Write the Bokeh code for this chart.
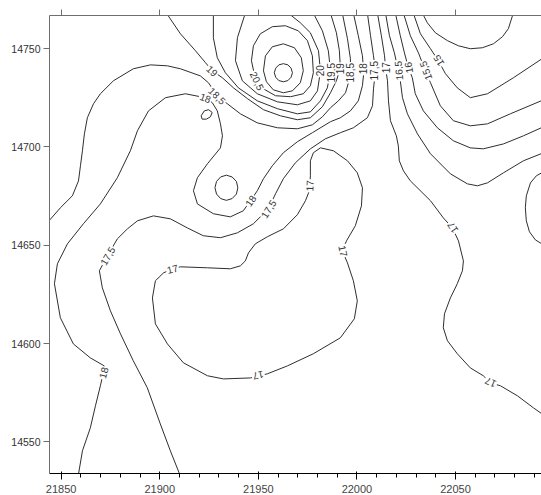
from bokeh.plotting import figure
from bokeh.models import Range1d, FixedTicker, LinearAxis, ColumnDataSource
from bokeh.embed import file_html
from bokeh.resources import INLINE
from bokeh.core.properties import value

# ---------------- axes ----------------
x_ticks = [21850, 21900, 21950, 22000, 22050]
y_ticks = [14550, 14600, 14650, 14700, 14750]
x_extent = [21844.1, 22093.6]
y_extent = [14533.9, 14766.8]

c185_x = [21843.5, 21849.6, 21855.7, 21858.8, 21859.8, 21860.8, 21861.8, 21863.3, 21866.4, 21869.9, 21876.5,
          21886.6, 21895.3, 21903.9, 21910.5, 21920.6, 21924.7, 21929.2, 21934.3, 21940.9, 21949.5, 21959.7,
          21969.8, 21977.4, 21982.5, 21986.6, 21990.6, 21994.2, 21995.7, 21996.7, 21996.7, 21995.2, 21992.6]
c185_y = [14662.0, 14669.0, 14675.1, 14682.7, 14690.4, 14698.0, 14706.6, 14714.8, 14721.9, 14727.0, 14733.6,
          14739.7, 14741.7, 14741.2, 14739.7, 14736.1, 14732.6, 14726.0, 14721.9, 14716.8, 14712.2, 14709.7,
          14709.2, 14711.2, 14715.3, 14719.9, 14723.4, 14727.5, 14732.6, 14737.7, 14744.8, 14755.0, 14768.0]

c18_x = [21858.2, 21860.8, 21864.8, 21867.4, 21869.9, 21871.4, 21871.9, 21864.8, 21856.2, 21849.6, 21846.6,
         21848.1, 21853.2, 21861.3, 21869.9, 21878.5, 21885.1, 21888.7, 21894.3, 21902.9, 21913.0, 21920.6,
         21924.2, 21926.7, 21929.2, 21930.8, 21931.8, 21930.8, 21924.2, 21919.1, 21917.1, 21919.1, 21927.2,
         21935.8, 21942.4, 21946.0, 21949.5, 21952.6, 21957.1, 21962.7, 21969.8, 21977.4, 21986.6, 21991.6,
         21996.7, 22000.7, 22002.8, 22003.3, 22003.3, 22002.8, 22000.7, 21998.2]
c18_y = [14530.0, 14545.4, 14557.1, 14568.3, 14578.5, 14585.1, 14588.6, 14592.7, 14599.8, 14613.1, 14630.4,
         14640.5, 14650.7, 14660.9, 14671.0, 14684.3, 14698.0, 14708.2, 14718.3, 14725.0, 14727.0, 14725.5,
         14724.5, 14722.4, 14718.3, 14711.7, 14705.6, 14699.5, 14691.4, 14684.3, 14677.7, 14671.0, 14666.0,
         14664.4, 14667.5, 14672.6, 14677.7, 14683.8, 14690.4, 14697.0, 14702.6, 14707.2, 14712.8, 14714.8,
         14718.3, 14723.4, 14731.1, 14736.1, 14739.7, 14746.3, 14756.5, 14768.0]

c175_x = [21911.5, 21905.4, 21900.3, 21893.7, 21886.6, 21880.1, 21875.0, 21870.9, 21869.4, 21873.5, 21878.5,
          21883.6, 21888.7, 21896.8, 21905.4, 21914.0, 21922.1, 21930.8, 21939.4, 21947.5, 21955.1, 21958.7,
          21962.7, 21968.8, 21976.4, 21984.0, 21991.6, 21998.2, 22005.3, 22007.9, 22008.4, 22009.4, 22008.4,
          22006.9, 22005.3]
c175_y = [14530.0, 14545.4, 14559.1, 14577.5, 14591.2, 14604.9, 14616.6, 14628.3, 14637.0, 14644.6, 14653.2,
          14658.3, 14662.4, 14664.9, 14663.4, 14658.8, 14654.8, 14653.8, 14656.3, 14660.9, 14668.5, 14676.1,
          14683.8, 14691.9, 14699.0, 14704.1, 14707.2, 14709.7, 14714.8, 14720.9, 14729.5, 14738.7, 14746.3,
          14756.5, 14768.0]

c19_x = [21903.4, 21910.5, 21918.1, 21923.2, 21926.7, 21931.8, 21937.4, 21944.5, 21952.6, 21961.2, 21969.8,
         21976.4, 21982.5, 21986.6, 21989.6, 21991.6, 21991.1, 21989.6, 21986.6]
c19_y = [14768.0, 14757.5, 14748.9, 14742.8, 14738.7, 14735.1, 14730.0, 14724.5, 14718.9, 14715.8, 14713.8,
         14714.8, 14720.4, 14727.5, 14733.6, 14740.2, 14748.9, 14758.0, 14768.0]

c195_x = [21927.2, 21927.2, 21929.2, 21933.3, 21939.9, 21949.5, 21959.7, 21969.8, 21976.4, 21981.5, 21985.0,
          21986.6, 21985.5, 21982.5, 21977.9]
c195_y = [14768.0, 14755.5, 14745.3, 14737.7, 14730.0, 14723.4, 14719.4, 14716.8, 14717.8, 14723.4, 14730.0,
          14738.7, 14748.9, 14759.0, 14768.0]

c20_x = [21943.4, 21939.4, 21938.4, 21941.9, 21949.5, 21959.7, 21969.8, 21976.4, 21980.0, 21981.5, 21980.5,
         21976.4, 21971.3, 21965.2]
c20_y = [14768.0, 14755.5, 14743.8, 14733.6, 14727.0, 14722.9, 14721.4, 14723.4, 14728.5, 14738.7, 14748.9,
         14758.0, 14763.1, 14768.0]

c205_x = [21946.5, 21947.5, 21951.0, 21957.1, 21963.7, 21970.3, 21974.9, 21977.4, 21977.9, 21976.4, 21972.8,
          21966.3, 21958.7, 21952.6, 21948.5, 21946.5]
c205_y = [14743.8, 14751.4, 14757.5, 14761.1, 14761.6, 14759.0, 14754.0, 14746.3, 14737.7, 14731.1, 14727.0,
          14725.5, 14726.0, 14729.5, 14734.6, 14743.8]

c21_x = [21952.6, 21953.6, 21957.1, 21962.7, 21968.3, 21971.8, 21972.8, 21971.3, 21967.3, 21962.7, 21957.6,
         21954.1, 21952.6]
c21_y = [14738.7, 14746.3, 14750.9, 14752.4, 14750.4, 14745.3, 14738.7, 14732.6, 14728.5, 14727.5, 14729.0,
         14733.1, 14738.7]

c215_x = [21967.3, 21966.6, 21965.0, 21962.7, 21960.4, 21958.8, 21958.1, 21958.8, 21960.4, 21962.7, 21965.0,
          21966.6, 21967.3]
c215_y = [14737.7, 14740.0, 14741.7, 14742.3, 14741.7, 14740.0, 14737.7, 14735.4, 14733.7, 14733.1, 14733.7,
          14735.4, 14737.7]

c185_loop_x = [21939.6, 21938.9, 21936.7, 21933.8, 21930.9, 21928.8, 21928.0, 21928.8, 21930.9, 21933.8,
               21936.7, 21938.9, 21939.6]
c185_loop_y = [14679.2, 14682.4, 14684.7, 14685.6, 14684.7, 14682.4, 14679.2, 14676.0, 14673.7, 14672.8,
               14673.7, 14676.0, 14679.2]

c185_tiny_x = [21921.0, 21922.6, 21924.8, 21926.6, 21925.7, 21923.7, 21921.5, 21921.0]
c185_tiny_y = [14715.8, 14718.3, 14718.9, 14717.5, 14715.3, 14714.1, 14714.1, 14715.8]

c17_loop_x = [21906.4, 21910.5, 21924.2, 21935.8, 21940.9, 21943.4, 21945.0, 21948.5, 21954.6, 21962.7, 21969.8,
              21973.9, 21975.9, 21976.4, 21976.4, 21977.9, 21981.5, 21988.1, 21995.2, 22000.2, 22002.8, 22002.3,
              21999.2, 21994.7, 21992.6, 21995.2, 21998.2, 22000.2, 21998.7, 21991.6, 21977.9, 21964.7, 21954.6,
              21946.0, 21932.3, 21924.2, 21912.0, 21903.9, 21897.8, 21896.3, 21897.8, 21901.9, 21906.4]
c17_loop_y = [14638.0, 14639.0, 14638.5, 14638.0, 14639.5, 14642.0, 14646.1, 14650.7, 14654.3, 14658.3, 14665.5,
              14672.6, 14677.7, 14685.3, 14692.9, 14697.0, 14699.5, 14698.0, 14692.9, 14686.8, 14679.2, 14670.0,
              14659.9, 14652.2, 14647.1, 14641.0, 14631.9, 14621.7, 14612.6, 14602.9, 14594.8, 14588.6, 14584.6,
              14582.5, 14582.0, 14583.6, 14590.2, 14599.8, 14610.0, 14623.2, 14631.9, 14635.9, 14638.0]

c17_x = [22010.4, 22012.4, 22014.0, 22014.5, 22015.5, 22016.0, 22017.0, 22020.0, 22021.0, 22021.5, 22023.6,
         22027.1, 22037.3, 22043.8, 22048.4, 22051.5, 22054.0, 22053.5, 22050.9, 22047.4, 22044.4, 22043.8,
         22045.9, 22050.9, 22057.5, 22064.1, 22067.7, 22072.8, 22081.4, 22089.5, 22094.6]
c17_y = [14768.0, 14756.5, 14746.3, 14740.2, 14733.6, 14723.4, 14713.3, 14705.6, 14700.5, 14692.9, 14687.8,
         14682.7, 14672.6, 14663.9, 14658.8, 14652.2, 14642.0, 14637.0, 14630.4, 14623.2, 14615.1, 14608.0,
         14601.4, 14594.8, 14587.6, 14583.6, 14580.0, 14578.5, 14573.4, 14567.3, 14563.7]

c165_x = [22014.5, 22016.5, 22019.0, 22021.0, 22022.0, 22023.1, 22025.6, 22030.7, 22037.3, 22047.4, 22056.0,
          22061.1, 22066.2, 22074.3, 22084.4, 22094.6]
c165_y = [14768.0, 14756.5, 14747.8, 14738.7, 14733.6, 14725.0, 14716.8, 14706.6, 14696.5, 14686.3, 14681.2,
          14680.2, 14681.7, 14686.8, 14692.9, 14697.0]

c16_x = [22019.5, 22022.0, 22024.1, 22026.1, 22028.1, 22029.6, 22033.7, 22040.8, 22048.9, 22057.5, 22064.1,
         22074.3, 22084.4, 22094.6]
c16_y = [14768.0, 14756.5, 14747.8, 14740.2, 14735.1, 14727.0, 14718.3, 14709.7, 14703.1, 14699.5, 14699.0,
         14701.5, 14705.6, 14710.2]

c155_x = [22023.6, 22027.1, 22031.2, 22034.7, 22037.3, 22042.3, 22048.9, 22057.5, 22066.2, 22077.8, 22094.6]
c155_y = [14768.0, 14756.5, 14747.8, 14738.7, 14732.6, 14720.9, 14713.3, 14710.7, 14711.7, 14716.8, 14723.9]

c15_x = [22028.6, 22032.2, 22037.3, 22041.3, 22044.9, 22050.9, 22057.5, 22066.2, 22079.3, 22094.6]
c15_y = [14768.0, 14757.5, 14749.9, 14743.8, 14737.2, 14730.0, 14725.0, 14727.0, 14735.1, 14745.3]

c145_x = [22033.2, 22035.7, 22039.8, 22045.9, 22051.5, 22057.5, 22063.6, 22069.2, 22073.8, 22076.8, 22079.3]
c145_y = [14768.0, 14763.1, 14758.0, 14754.0, 14751.4, 14749.9, 14750.4, 14752.4, 14756.0, 14760.1, 14768.0]

c17_east_x = [22094.6, 22091.0, 22088.0, 22085.9, 22085.4, 22085.9, 22087.5, 22090.5, 22094.6]
c17_east_y = [14687.3, 14685.3, 14681.7, 14675.1, 14669.0, 14662.4, 14656.8, 14652.7, 14650.2]

# ---------------- contour labels ----------------
label_level = [19, 18.5, 18, 20.5, 20, 19.5, 19, 18.5, 18, 17.5, 17, 16.5, 16, 15.5, 15,
               18, 17.5, 17, 17, 17, 17, 17, 17, 17.5, 18]
label_x = [21926.7, 21929.2, 21923.2, 21949.5, 21981.5, 21986.6, 21991.6, 21996.7, 22003.3, 22008.9, 22014.5,
           22021.0, 22026.1, 22034.7, 22041.3, 21946.0, 21955.1, 21906.4, 21975.9, 21993.1, 21950.0, 22048.4,
           22067.7, 21873.5, 21871.4]
label_y = [14738.7, 14726.0, 14725.0, 14733.6, 14738.7, 14737.7, 14739.7, 14737.7, 14739.7, 14738.7, 14740.2,
           14738.7, 14740.2, 14738.7, 14743.8, 14672.6, 14668.5, 14638.0, 14680.2, 14647.1, 14583.6, 14658.8,
           14580.0, 14644.6, 14585.1]
label_angle = [-45, -45, -20, -65, 90, 90, 90, 90, 90, 90, 90, 95, 100, 110, 121,
               55, 58, 15, 88, -78, 193, 123, 155, 60, 75]

contours = [
    (18.5, c185_x, c185_y), (18, c18_x, c18_y), (17.5, c175_x, c175_y), (19, c19_x, c19_y),
    (19.5, c195_x, c195_y), (20, c20_x, c20_y), (20.5, c205_x, c205_y), (21, c21_x, c21_y),
    (21.5, c215_x, c215_y), (18.5, c185_loop_x, c185_loop_y), (18.5, c185_tiny_x, c185_tiny_y),
    (17, c17_loop_x, c17_loop_y), (17, c17_x, c17_y), (16.5, c165_x, c165_y), (16, c16_x, c16_y),
    (15.5, c155_x, c155_y), (15, c15_x, c15_y), (14.5, c145_x, c145_y), (17, c17_east_x, c17_east_y),
]

FONT = "Liberation Sans"
LINE = "#2e2e2e"
AXIS = "#6e6e6e"

p = figure(width=541, height=495, x_range=Range1d(*x_extent), y_range=Range1d(*y_extent),
           output_backend="svg", toolbar_location=None,
           min_border_left=49, min_border_top=15, min_border_bottom=18, min_border_right=0)
p.xgrid.visible = False
p.ygrid.visible = False
p.outline_line_color = None
p.background_fill_color = "white"
p.border_fill_color = "white"

src = ColumnDataSource(dict(xs=[c[1] for c in contours], ys=[c[2] for c in contours],
                            level=[c[0] for c in contours]))
p.multi_line(xs="xs", ys="ys", source=src, line_color=LINE, line_width=1)

lab = ColumnDataSource(dict(x=label_x, y=label_y, angle=label_angle,
                            text=[("%g" % v).replace(".", ",") for v in label_level]))
p.text(x="x", y="y", text="text", angle="angle", angle_units="deg", source=lab,
       text_font=value(FONT), text_font_size="10px", text_color="#333333",
       text_align="center", text_baseline="middle",
       background_fill_color="white", padding=1)

top = LinearAxis()
p.add_layout(top, "above")

for ax, ticks in ((p.xaxis[0], x_ticks), (top, x_ticks), (p.yaxis[0], y_ticks)):
    ax.ticker = FixedTicker(ticks=ticks)
    ax.major_tick_out = 6
    ax.major_tick_in = 0
    ax.minor_tick_line_color = None
    ax.axis_line_color = AXIS
    ax.major_tick_line_color = AXIS
    ax.major_label_text_font = FONT
    ax.major_label_text_font_size = "10.5px"
    ax.major_label_text_color = "#333333"

p.xaxis[0].major_label_standoff = 0
p.yaxis[0].major_label_standoff = 3
top.major_label_text_font_size = "1px"
top.major_label_text_color = None
top.major_label_standoff = 0

open("out.html", "w").write(file_html(p, INLINE))
